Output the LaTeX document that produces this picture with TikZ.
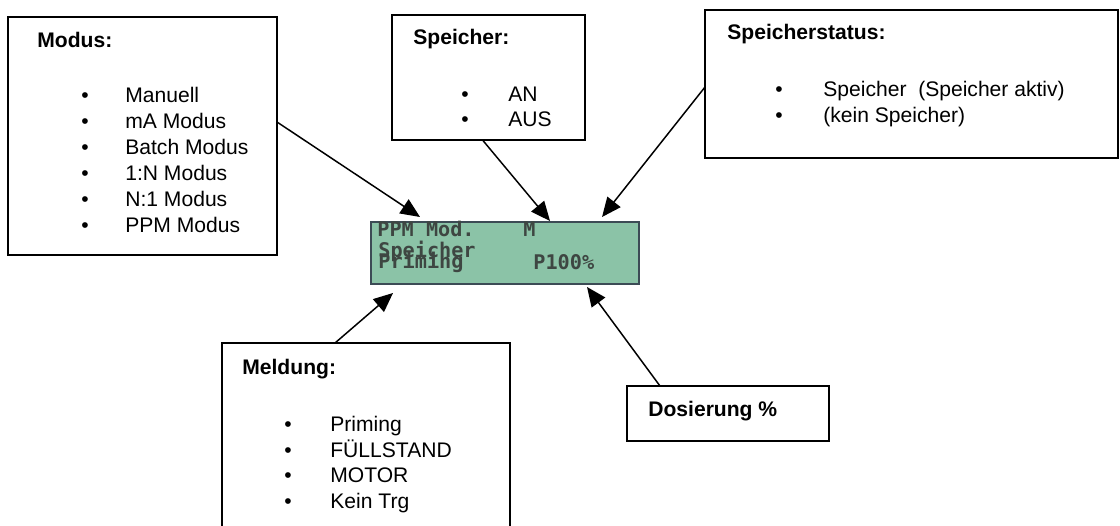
\documentclass[tikz,border=0pt]{standalone}
\usepackage{fontspec}
\setmainfont{Liberation Sans}
\newfontfamily\lcdfont{DejaVu Sans Mono}
\usetikzlibrary{arrows.meta,calc}
\definecolor{lcdgreen}{RGB}{139,195,167}
\definecolor{lcdframe}{RGB}{60,75,85}
\definecolor{lcdink}{RGB}{62,70,66}

\begin{document}
\begin{tikzpicture}[x=0.02cm,y=-0.02cm,
  box/.style={draw,line width=1.1pt,inner sep=0pt,outer sep=0pt},
  title/.style={anchor=base west,inner sep=0pt,font=\bfseries\fontsize{12}{14}\selectfont},
  item/.style={anchor=base west,inner sep=0pt,font=\fontsize{12}{14}\selectfont},
  bullet/.style={anchor=base,inner sep=0pt,font=\fontsize{12}{14}\selectfont},
  lcdtxt/.style={anchor=base west,inner sep=0pt,text=lcdink,font=\lcdfont\bfseries\fontsize{11.5}{14}\selectfont},
  pfeil/.style={line width=0.85pt,-{Triangle[width=9.5pt,length=11pt]}}]
  \useasboundingbox (0,0) rectangle (1120,526);
  \clip (0,0) rectangle (1120,526);
  % display
  \node[box,fill=lcdgreen,draw=lcdframe,minimum width=5.36cm,minimum height=1.24cm] (lcd) at (505,253) {};
  \node[lcdtxt] (lcdmode) at (377,237) {PPM Mod.};
  \node[lcdtxt] (lcdmem) at (523,237) {M};
  \node[lcdtxt] (lcdmemtxt) at (378,258) {Speicher};
  \node[lcdtxt] (lcdmsg) at (378,269) {Priming};
  \node[lcdtxt] (lcddose) at (533,270) {P100\%};
  % Modus
  \node[box,minimum width=5.38cm,minimum height=4.76cm] (modus) at (142.5,136) {};
  \node[title] (modustitle) at (37,48) {Modus:};
  \foreach \txt [count=\i from 0] in {Manuell,mA Modus,Batch Modus,1:N Modus,N:1 Modus,PPM Modus} {
    \node[bullet] (modusdot\i) at (85,103+26*\i) {•};
    \node[item] (modusitem\i) at (125,103+26*\i) {\txt};
  }
  % Speicher
  \node[box,minimum width=3.86cm,minimum height=2.5cm] (speicher) at (488.5,77.5) {};
  \node[title] (speichertitle) at (413,45) {Speicher:};
  \foreach \txt [count=\i from 0] in {AN,AUS} {
    \node[bullet] (speicherdot\i) at (465,102+25*\i) {•};
    \node[item] (speicheritem\i) at (508,102+25*\i) {\txt};
  }
  % Speicherstatus
  \node[box,minimum width=8.26cm,minimum height=2.96cm] (status) at (911.5,84) {};
  \node[title] (statustitle) at (727,40) {Speicherstatus:};
  \foreach \txt [count=\i from 0] in {Speicher~ (Speicher aktiv),(kein Speicher)} {
    \node[bullet] (statusdot\i) at (779,97+26*\i) {•};
    \node[item] (statusitem\i) at (823,97+26*\i) {\txt};
  }
  % Meldung
  \node[box,minimum width=5.76cm,minimum height=4.34cm] (meldung) at (366,451.5) {};
  \node[title] (meldungtitle) at (242,375) {Meldung:};
  \foreach \txt [count=\i from 0] in {Priming,FÜLLSTAND,MOTOR,Kein Trg} {
    \node[bullet] (meldungdot\i) at (288,432+25.5*\i) {•};
    \node[item] (meldungitem\i) at (330,432+25.5*\i) {\txt};
  }
  % Dosierung
  \node[box,minimum width=4.04cm,minimum height=1.1cm] (dosierung) at (728,413.5) {};
  \node[title] (dosierungtitle) at (648,417) {Dosierung \%};
  % arrows
  \draw[pfeil] ($(modus.east)+(0,-14)$) -- ($(lcd.north west)+(49,-5)$);
  \draw[pfeil] ($(speicher.south)+(-6,0)$) -- ($(lcd.north west)+(179,-1)$);
  \draw[pfeil] ($(status.west)+(0,3)$) -- ($(lcd.north west)+(231,-5)$);
  \draw[pfeil] ($(meldung.north)+(-31,0)$) -- ($(lcd.south west)+(22,9)$);
  \draw[pfeil] ($(dosierung.north)+(-68,0)$) -- ($(lcd.south west)+(216,3)$);
\end{tikzpicture}
\end{document}
